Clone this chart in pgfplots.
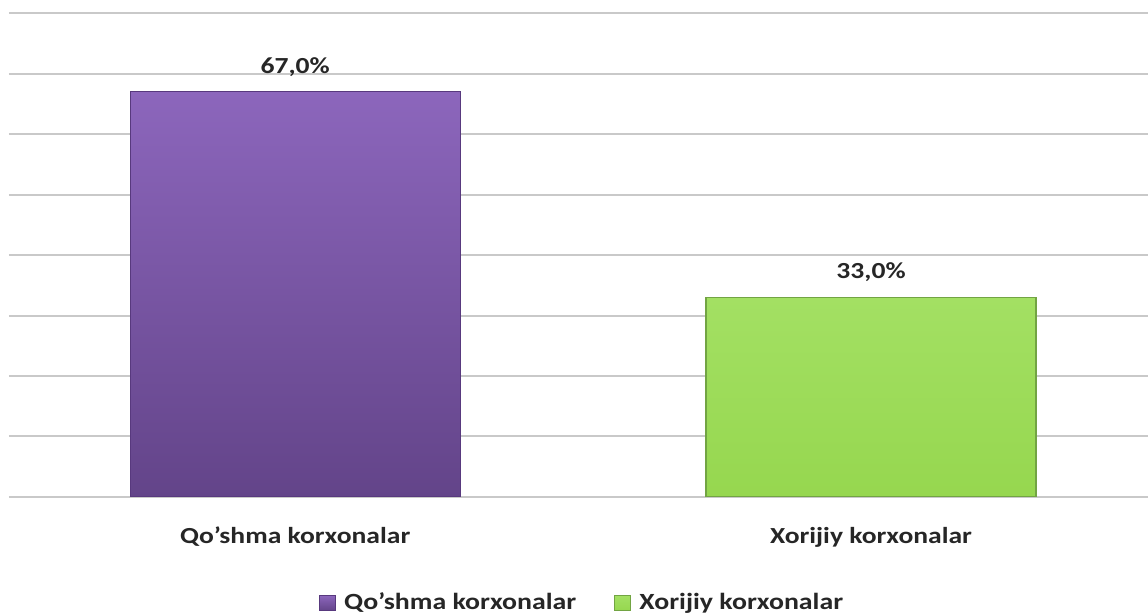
\documentclass[border=0pt]{standalone}
\usepackage{fontspec}
\setmainfont{Carlito}[FakeStretch=1.2]
\usepackage{pgfplots}
\pgfplotsset{compat=1.18}
\definecolor{purpTop}{HTML}{8C66BC}
\definecolor{purpBot}{HTML}{634489}
\definecolor{purpEdge}{HTML}{58397E}
\definecolor{grnTop}{HTML}{A3E063}
\definecolor{grnBot}{HTML}{96D74F}
\definecolor{grnEdge}{HTML}{72A443}
\definecolor{gridc}{HTML}{C9C9C9}
\begin{document}
\begin{tikzpicture}
\path[use as bounding box] (-4.5pt,-59pt) rectangle (569.5pt,248.5pt);
\begin{axis}[
  at={(0,0)}, anchor=south west,
  scale only axis, width=569.5pt, height=242pt,
  xmin=-0.497, xmax=1.481, ymin=0, ymax=80,
  ytick={0,10,...,80}, yticklabels={},
  ymajorgrids, grid style={gridc, line width=1pt},
  major tick length=0pt,
  axis line style={draw=none},
  xtick={0,1},
  xticklabels={Qo'shma korxonalar, Xorijiy korxonalar},
  xticklabel style={font=\fontsize{11.5}{13}\selectfont\bfseries, text=black!85, anchor=center, yshift=-20pt},
  ybar, bar width=0.573,
  nodes near coords={\pgfmathprintnumber[fixed,fixed zerofill,precision=1,use comma,assume math mode=true]{\pgfplotspointmeta}\%},
  every node near coord/.append style={font=\fontsize{11.5}{13}\selectfont\bfseries, text=black!85, anchor=center, yshift=12.5pt},
  legend style={at={(0.504,-0.219)}, anchor=center, draw=none, fill=none,
    font=\fontsize{11.6}{13}\selectfont\bfseries, text=black!85,
    legend columns=2, /tikz/every even column/.append style={column sep=17pt}},
  legend image code/.code={\path[#1] (0pt,-3.8pt) rectangle (7.8pt,3.8pt); \path (10pt,0pt);},
]
\addplot[bar shift=0pt, top color=purpTop, bottom color=purpBot, draw=purpEdge, line width=0.6pt]
  coordinates {(0,67)};
\addplot[bar shift=0pt, top color=grnTop, bottom color=grnBot, draw=grnEdge, line width=0.6pt]
  coordinates {(1,33)};
\legend{Qo'shma korxonalar, Xorijiy korxonalar}
\end{axis}
\end{tikzpicture}
\end{document}
